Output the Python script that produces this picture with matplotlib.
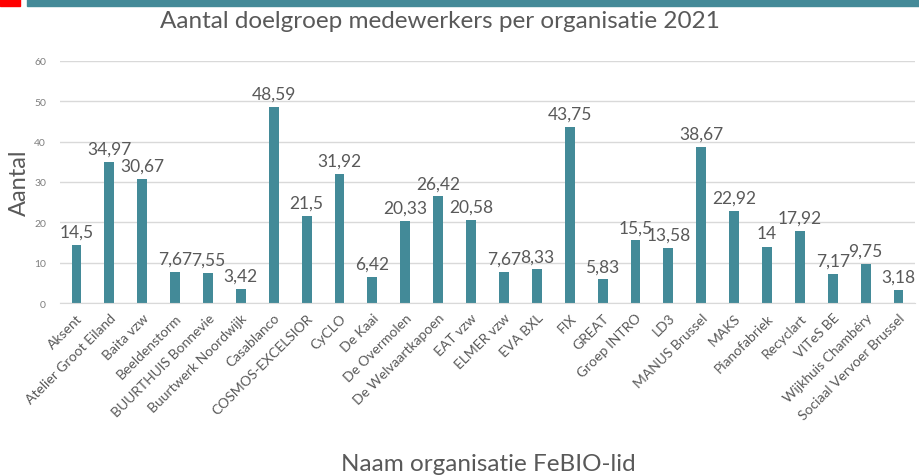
import matplotlib
matplotlib.use("Agg")
import matplotlib.pyplot as plt
from matplotlib.patches import Rectangle

categories = ["Aksent", "Atelier Groot Eiland", "Baita vzw", "Beeldenstorm", "BUURTHUIS Bonnevie",
              "Buurtwerk Noordwijk", "Casablanco", "COSMOS-EXCELSIOR", "CyCLO", "De Kaai",
              "De Overmolen", "De Welvaartkapoen", "EAT vzw", "ELMER vzw", "EVA BXL", "FIX",
              "GREAT", "Groep INTRO", "LD3", "MANUS Brussel", "MAKS", "Pianofabriek",
              "Recyclart", "VITeS BE", "Wijkhuis Chambéry", "Sociaal Vervoer Brussel"]
values = [14.5, 34.97, 30.67, 7.67, 7.55, 3.42, 48.59, 21.5, 31.92, 6.42, 20.33, 26.42,
          20.58, 7.67, 8.33, 43.75, 5.83, 15.5, 13.58, 38.67, 22.92, 14, 17.92, 7.17,
          9.75, 3.18]
yticks = [0, 10, 20, 30, 40, 50, 60]

plt.rcParams['font.family'] = ['Lato', 'DejaVu Sans']
bar_color = "#438A98"
text_color = "#595959"

fig = plt.figure(figsize=(9.19, 4.77), dpi=100)
ax = fig.add_axes([60/919, 1-304/477, 855/919, 242/477])

x = list(range(len(categories)))
ax.bar(x, values, width=0.3, color=bar_color, zorder=3)
for xi, v in zip(x, values):
    lab = (f"{v:g}").replace('.', ',')
    ax.text(xi, v + 1.3, lab, ha='center', va='bottom', fontsize=12.5, color=text_color, zorder=4)

ax.set_xlim(-0.5, len(categories) - 0.5)
ax.set_ylim(0, 60)
ax.set_yticks(yticks)
ax.set_yticklabels([str(t) for t in yticks], fontsize=7.5, color="#7f7f7f")
ax.yaxis.grid(True, color="#d9d9d9", linewidth=1, zorder=0)
ax.set_xticks(x)
ax.set_xticklabels(categories, rotation=45, ha='right', rotation_mode='anchor',
                   fontsize=10, color=text_color)
ax.tick_params(axis='both', length=0)
ax.tick_params(axis='y', pad=10)
ax.tick_params(axis='x', pad=6)
for s in ['top', 'right', 'left']:
    ax.spines[s].set_visible(False)
ax.spines['bottom'].set_color("#d9d9d9")
ax.spines['bottom'].set_zorder(5)

ax.set_ylabel("Aantal", fontsize=17, color=text_color)
ax.yaxis.set_label_coords(-30/855, 0.5)
fig.text(488/919, 1-465/477, "Naam organisatie FeBIO-lid", ha='center', va='center',
         fontsize=17.5, color=text_color)
fig.text(440/919, 1-22/477, "Aantal doelgroep medewerkers per organisatie 2021",
         ha='center', va='center', fontsize=17.5, color=text_color)

# decorative top bars
fig.patches.append(Rectangle((0, 1-7/477), 20/919, 7/477, transform=fig.transFigure,
                             color="#FF0000", zorder=10))
fig.patches.append(Rectangle((27/919, 1-7/477), 892/919, 7/477, transform=fig.transFigure,
                             color="#448A98", zorder=10))

fig.savefig("out.png", dpi=100)
